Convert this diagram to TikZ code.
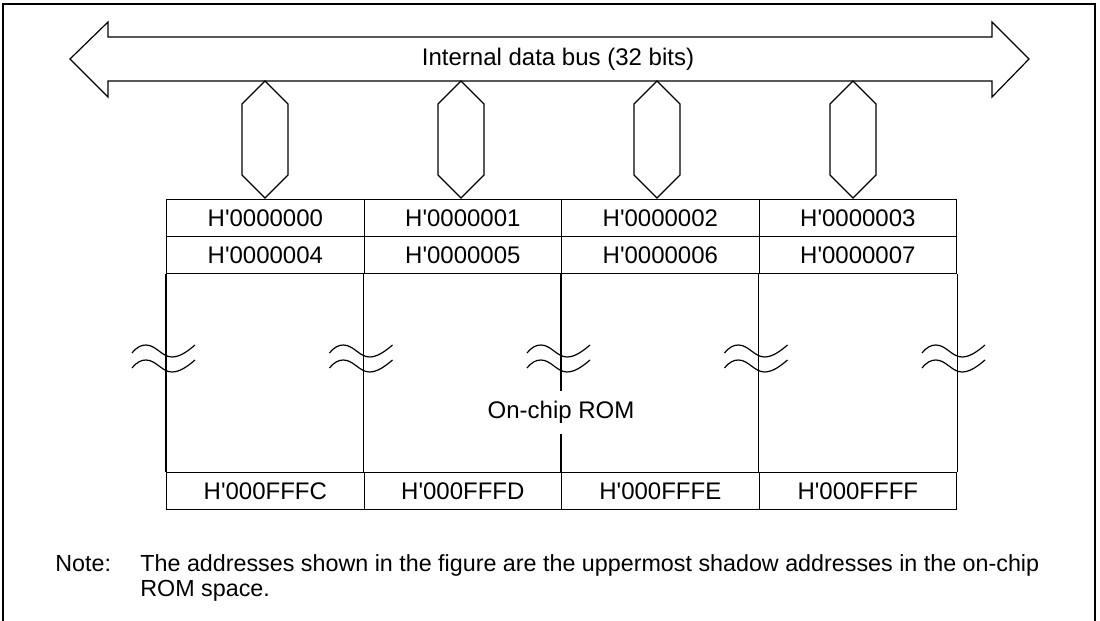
\documentclass[tikz,border=0pt]{standalone}
\usepackage{fontspec}
\setmainfont{Liberation Sans}
\begin{document}
\begin{tikzpicture}[x=0.5pt,y=-0.5pt,
  ln/.style={line width=0.6pt, draw=black},
  txt/.style={font=\fontsize{12}{14}\selectfont, inner sep=0pt},
  notetxt/.style={font=\fontsize{11.65}{14}\selectfont, inner sep=0pt, anchor=base west},
  cell/.style={ln, txt, minimum width=98.75pt, minimum height=18.5pt, anchor=north west},
  brk/.pic={
    \draw[line width=0.6pt] (-34,353) .. controls (-29,347) and (-25,345) .. (-20,345)
        .. controls (-10,345) and (-4,357) .. (6,357) .. controls (14,357) and (22,351) .. (29,345);
    \draw[line width=0.6pt] (-34,368) .. controls (-29,362) and (-25,360) .. (-20,360)
        .. controls (-10,360) and (-4,372) .. (6,372) .. controls (14,372) and (22,366) .. (29,360);
  }]
\useasboundingbox (0,0) rectangle (1100,621);
% frame (open at the bottom)
\draw[ln] (3,621) -- (3,4) -- (1095,4) -- (1095,621);
% bus arrow
\draw[ln] (70,59) -- (108,22) -- (108,37) -- (992,37) -- (992,22) -- (1029,59)
  -- (992,97) -- (992,81) -- (108,81) -- (108,97) -- cycle;
\node[txt] (bus) at (558,59) {Internal data bus (32 bits)};
% table cells
\foreach \i/\a/\b/\z in {0/0000000/0000004/000FFFC,1/0000001/0000005/000FFFD,2/0000002/0000006/000FFFE,3/0000003/0000007/000FFFF}{
  \node[cell] (a\i) at ({166+197.5*\i},199) {H\textquotesingle\a};
  \node[cell] (b\i) at ({166+197.5*\i},236) {H\textquotesingle\b};
  \node[cell] (z\i) at ({166+197.5*\i},472) {H\textquotesingle\z};
}
% hexagonal connectors
\foreach \i in {0,...,3}{
  \pgfmathsetmacro{\cx}{265+196*\i}
  \draw[ln] (\cx,81) -- (\cx+23,104) -- (\cx+23,175) -- (\cx,198) -- (\cx-23,175) -- (\cx-23,104) -- cycle;
}
% vertical lines of the ROM area
\foreach \i in {0,...,3}{
  \draw[ln] (b\i.south west) -- (z\i.north west);
}
\draw[ln] (b3.south east) -- (z3.north east);
% break marks
\foreach \x in {166,363.5,561,758.5,956}{
  \pic at (\x,0) {brk};
}
\node[txt, fill=white, minimum height=21.5pt, inner xsep=2pt] (rom) at (561,412) {On-chip ROM};
% note
\node[notetxt] (notelabel) at (55,571) {Note:};
\node[notetxt] (note1) at (140,571) {The addresses shown in the figure are the uppermost shadow addresses in the on-chip};
\node[notetxt] (note2) at (140,596) {ROM space.};
\end{tikzpicture}
\end{document}
